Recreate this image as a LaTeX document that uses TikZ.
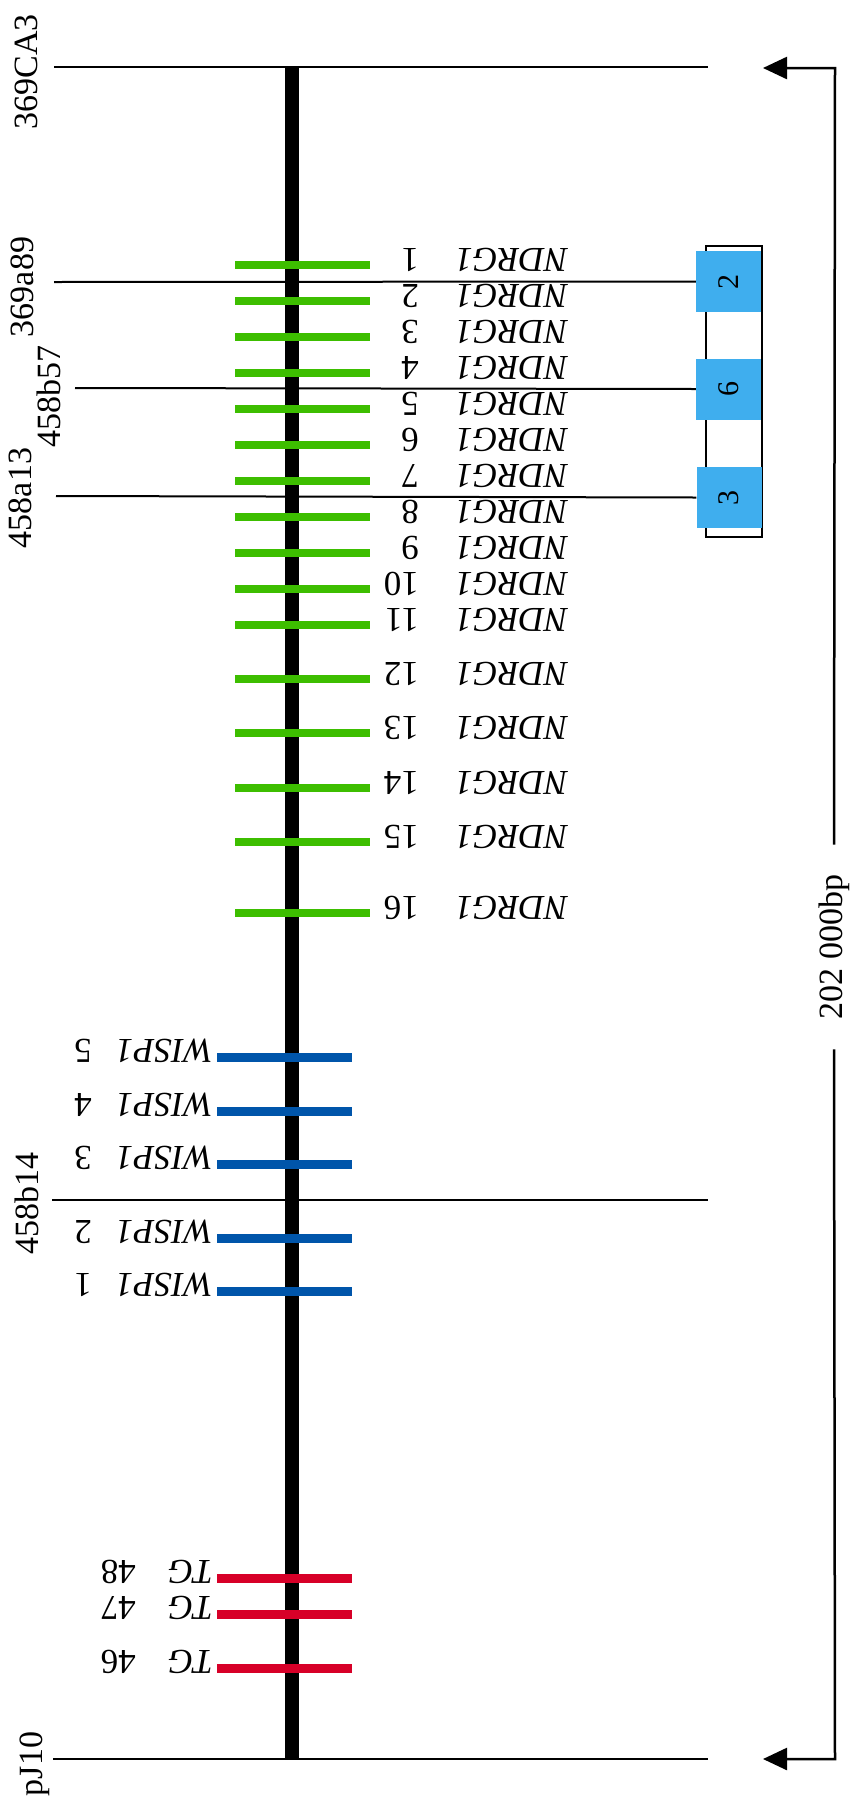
\documentclass[tikz,border=0pt]{standalone}
\usepackage{fontspec}
\setmainfont{Liberation Serif}
\usetikzlibrary{arrows.meta}
\definecolor{ndrggreen}{RGB}{61,190,0}
\definecolor{wispblue}{RGB}{0,85,170}
\definecolor{tgred}{RGB}{215,0,40}
\definecolor{boxblue}{RGB}{63,174,238}
\tikzset{
  thinline/.style={line width=2pt},
  chrom/.style={line width=14pt},
  ndrgbar/.style={line width=8pt,draw=ndrggreen},
  wispbar/.style={line width=9pt,draw=wispblue},
  tgbar/.style={line width=9pt,draw=tgred},
  genelab/.style={rotate=180,anchor=base west,inner sep=0pt,font=\fontsize{35}{40}\selectfont},
  sitelab/.style={rotate=90,anchor=base,inner sep=0pt,font=\fontsize{34}{40}\selectfont},
  bluebox/.style={fill=boxblue,minimum width=65pt,minimum height=61pt,inner sep=0pt,font=\fontsize{30}{36}\selectfont},
}
\begin{document}
\begin{tikzpicture}[x=1pt,y=-1pt]
\useasboundingbox (0,0) rectangle (852,1805);
% site labels (left)
\node[sitelab] (l1) at (37,72) {369CA3};
\node[sitelab] (l2) at (33,287) {369a89};
\node[sitelab] (l3) at (60,396) {458b57};
\node[sitelab] (l4) at (31,498) {458a13};
\node[sitelab] (l5) at (38,1203) {458b14};
\node[sitelab] (l6) at (42,1764) {pJ10};
% coordinates for line starts/ends
\coordinate (s1) at (54,67);   \coordinate (e1) at (708,67);
\coordinate (s2) at (54,282);
\coordinate (s3) at (75,388);
\coordinate (s4) at (56,496);
\coordinate (s5) at (52,1200); \coordinate (e5) at (708,1200);
\coordinate (s6) at (53,1759); \coordinate (e6) at (708,1759);
% contig frame
\draw[line width=1.5pt] (706,246) rectangle (762,537);
\node[bluebox] (b2) at (728.5,281.5) {\rotatebox{90}{2}};
\node[bluebox] (b6) at (728.5,389) {\rotatebox{90}{6}};
\node[bluebox] (b3) at (729,497.5) {\rotatebox{90}{3}};
% horizontal site lines
\draw[thinline] (s1) -- (e1);
\draw[thinline] (s2) -- (b2.west);
\draw[thinline] (s3) -- (b6.west);
\draw[thinline] (s4) -- (b3.west);
\draw[thinline] (s5) -- (e5);
\draw[thinline] (s6) -- (e6);
% chromosome
\coordinate (ct) at (292,67);
\coordinate (cb) at (292,1759);
\draw[chrom] (ct) -- (cb);
% NDRG1 exons
\foreach \n/\y in {1/265,2/301,3/337,4/373,5/409,6/445,7/481,8/517,9/553,10/589,11/625,12/679,13/733,14/788,15/842,16/913}{
  \draw[ndrgbar] (235,\y) -- (370,\y);
  \node[genelab] (nd\n) at (568,{\y-17}) {\makebox[149pt][l]{\textit{NDRG1}}\n};
}
% WISP1 exons
\foreach \n/\y in {5/1057,4/1111,3/1164,2/1238,1/1291}{
  \draw[wispbar] (217,\y) -- (352,\y);
  \node[genelab] (wi\n) at (213,{\y-18}) {\makebox[121pt][l]{\textit{WISP1}}\n};
}
% TG exons
\foreach \n/\y in {48/1578,47/1614,46/1668}{
  \draw[tgbar] (217,\y) -- (352,\y);
  \node[genelab] (tg\n) at (213,{\y-18}) {\makebox[77pt][l]{\textit{TG}}\n};
}
% size bracket
\node[rotate=90,inner xsep=30pt,inner ysep=0pt,font=\fontsize{34}{40}\selectfont] (bp) at (834,947) {202 000bp};
\coordinate (rt) at (835,68);
\coordinate (rb) at (835,1759);
\coordinate (at) at (763,68);
\coordinate (ab) at (763,1759);
\draw[line width=2.5pt,-{Triangle[length=24pt,width=22pt]}] (bp.east) -- (rt) -- (at);
\draw[line width=2.5pt,-{Triangle[length=24pt,width=22pt]}] (bp.west) -- (rb) -- (ab);
\end{tikzpicture}
\end{document}
